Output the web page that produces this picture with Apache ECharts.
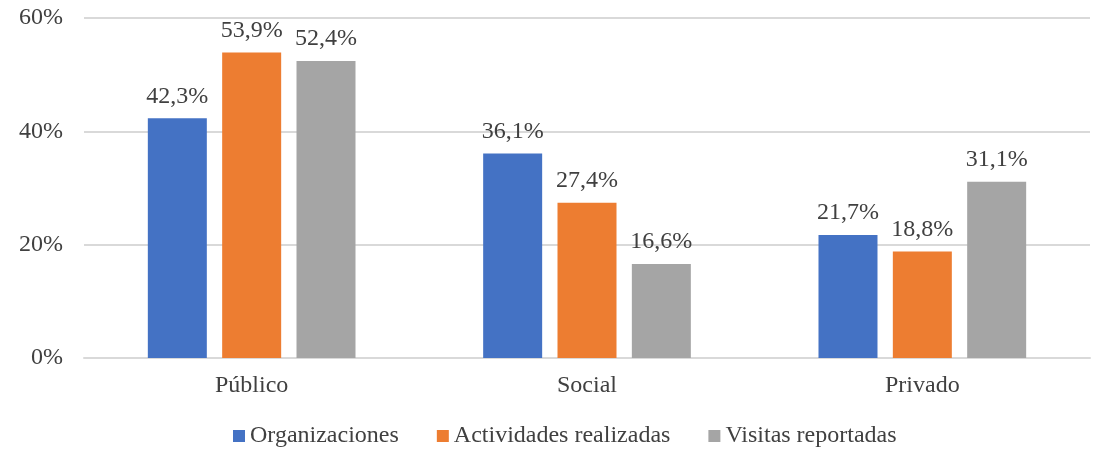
<!DOCTYPE html>
<html><head><meta charset="utf-8">
<script src="https://cdn.jsdelivr.net/npm/echarts@6/dist/echarts.min.js"></script>
<style>html,body{margin:0;padding:0;background:#fff}#c{width:1097px;height:450px}</style>
</head><body><div id="c"></div>
<script>
const categories = ['Público', 'Social', 'Privado'];
const seriesNames = ['Organizaciones', 'Actividades realizadas', 'Visitas reportadas'];
const organizaciones = [42.3, 36.1, 21.7];
const actividades = [53.9, 27.4, 18.8];
const visitas = [52.4, 16.6, 31.1];
const colors = ['#4472C4', '#ED7D31', '#A5A5A5'];
const yTicks = [0, 20, 40, 60];

const font = 'Liberation Serif';
const txt = '#404040';
const fs = 24;
const fmt = v => v.toFixed(1).replace('.', ',') + '%';
const mk = (name, data, i) => ({
  name, type: 'bar', data,
  itemStyle: { color: colors[i] },
  barWidth: 59, barGap: '26%',
  label: { show: true, position: 'top', distance: 10, formatter: p => fmt(p.value), fontFamily: font, fontSize: fs, color: txt }
});
const chart = echarts.init(document.getElementById('c'));
chart.setOption({
  animation: false,
  grid: { left: 84, right: 7, top: 18, bottom: 92 },
  legend: {
    top: 424, left: 233, padding: 0, itemWidth: 12, itemHeight: 12, itemGap: 38, icon: 'rect',
    textStyle: { fontFamily: font, fontSize: fs, color: txt },
    data: seriesNames
  },
  xAxis: {
    type: 'category', data: categories,
    axisLine: { lineStyle: { color: '#D9D9D9', width: 2 } },
    axisTick: { show: false },
    axisLabel: { fontFamily: font, fontSize: fs, color: txt, margin: 16 }
  },
  yAxis: {
    type: 'value', min: yTicks[0], max: yTicks[yTicks.length-1], interval: 20,
    axisLine: { show: false }, axisTick: { show: false },
    splitLine: { lineStyle: { color: '#D9D9D9', width: 2 } },
    axisLabel: { fontFamily: font, fontSize: fs, color: txt, margin: 21, formatter: v => v + '%' }
  },
  series: [mk(seriesNames[0], organizaciones, 0), mk(seriesNames[1], actividades, 1), mk(seriesNames[2], visitas, 2)]
});
</script></body></html>
